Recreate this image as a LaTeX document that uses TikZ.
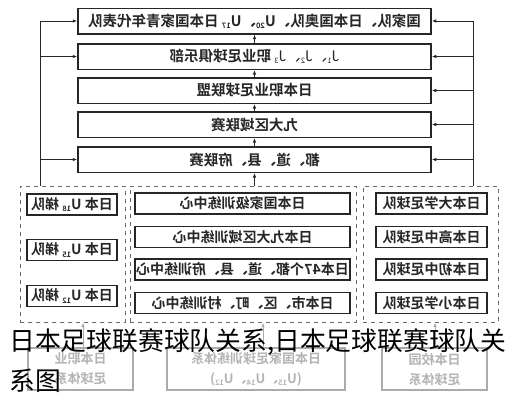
\documentclass[tikz,border=0pt]{standalone}
\usepackage{fontspec}
\usetikzlibrary{arrows.meta}
\newfontfamily\cjk{Noto Sans CJK SC}
\newfontfamily\cjkb{Noto Sans CJK SC Bold}
\newcommand\mysub[1]{\raisebox{-0.3ex}{\fontsize{7.5}{7.5}\selectfont #1}}
\definecolor{ink}{HTML}{262626}
\definecolor{dash}{HTML}{6A6A6A}
\definecolor{faded}{HTML}{ABABAB}
\definecolor{fadedtxt}{HTML}{B4B4B4}
\tikzset{
  topbox/.style={draw=ink, line width=1.5pt, minimum width=353pt, minimum height=25.5pt,
    inner sep=0pt, text=ink, font=\cjkb\fontsize{14.5}{14.5}\selectfont},
  inbox/.style={draw=ink, line width=1.3pt, minimum height=21pt, inner sep=0pt,
    text=ink, font=\cjkb\fontsize{14}{14}\selectfont},
  colbox/.style={draw=dash, line width=1pt, dash pattern=on 4pt off 4pt, inner sep=0pt},
  basebox/.style={draw=faded, line width=1.2pt, minimum height=42pt, inner sep=0pt,
    text=fadedtxt, align=center, font=\cjkb\fontsize{13}{20}\selectfont},
  arr/.style={draw=ink, line width=1pt, -{Latex[length=4.5pt,width=3.5pt]}},
  garr/.style={draw=faded, line width=1pt, -{Latex[length=4.5pt,width=3.5pt]}},
  captext/.style={inner sep=0pt, anchor=base west, text=black, font=\cjk\fontsize{25.8}{25.8}\selectfont}
}
\begin{document}
\begin{tikzpicture}[x=1pt,y=-1pt]
\useasboundingbox[fill=white] (0,0) rectangle (511,400);
% top stack
\node[topbox] (t1) at (254.5,21) {\reflectbox{国家队、日本国奥队、U\mysub{20}、U\mysub{17} 日本国家青年代表队}};
\node[topbox] (t2) at (254.5,56.5) {\reflectbox{{\cjk J\mysub{1}、J\mysub{2}、J\mysub{3}} 职业足球俱乐部}};
\node[topbox] (t3) at (254.5,90.5) {\reflectbox{日本职业足球联盟}};
\node[topbox] (t4) at (254.5,124.5) {\reflectbox{九大区域联赛}};
\node[topbox] (t5) at (254.5,159.5) {\reflectbox{都、道、县、府联赛}};
% dashed columns
\node[colbox, minimum width=105pt, minimum height=136pt] (colL) at (72.5,254) {};
\node[colbox, minimum width=226pt, minimum height=136pt] (colM) at (243,254) {};
\node[colbox, minimum width=135pt, minimum height=136pt] (colR) at (430.5,254) {};
% left column
\node[inbox, minimum width=90pt] (l1) at (72,204.5) {\reflectbox{日本 U\mysub{18} 梯队}};
\node[inbox, minimum width=90pt] (l2) at (72,250) {\reflectbox{日本 U\mysub{15} 梯队}};
\node[inbox, minimum width=90pt] (l3) at (72,296) {\reflectbox{日本 U\mysub{12} 梯队}};
% middle column
\node[inbox, minimum width=215pt] (m1) at (242.5,203.5) {\reflectbox{日本国家级训练中心}};
\node[inbox, minimum width=215pt] (m2) at (242.5,237) {\reflectbox{日本九大区域训练中心}};
\node[inbox, minimum width=215pt] (m3) at (242.5,269.5) {\reflectbox{日本47个都、道、县、府训练中心}};
\node[inbox, minimum width=215pt] (m4) at (242.5,303) {\reflectbox{日本市、区、町、村训练中心}};
% right column
\node[inbox, minimum width=111pt] (r1) at (431.5,203.5) {\reflectbox{日本大学足球队}};
\node[inbox, minimum width=111pt] (r2) at (431.5,237) {\reflectbox{日本高中足球队}};
\node[inbox, minimum width=111pt] (r3) at (431.5,269.5) {\reflectbox{日本初中足球队}};
\node[inbox, minimum width=111pt] (r4) at (431.5,303) {\reflectbox{日本小学足球队}};
% bottom faded boxes
\node[basebox, minimum width=105pt] (bL) at (80.5,369) {\reflectbox{日本职业}\\\reflectbox{足球体系}};
\node[basebox, minimum width=178pt] (bM) at (256,369) {\reflectbox{日本国家足球训练体系}\\\reflectbox{(U\mysub{15}、U\mysub{14}、U\mysub{12})}};
\node[basebox, minimum width=105pt] (bR) at (434.5,369) {\reflectbox{日本校园}\\\reflectbox{足球体系}};
% connectors
\coordinate (lx) at (40,0);
\coordinate (rx) at (473,0);
\draw[arr] (lx |- colL.north) |- (t1.west);
\draw[arr] (lx |- t2.west) -- (t2.west);
\draw[arr] (lx |- t5.west) -- (t5.west);
\draw[arr] (rx |- colR.north) |- (t1.east);
\draw[arr] (rx |- t2.east) -- (t2.east);
\draw[arr] (rx |- t3.east) -- (t3.east);
\draw[arr] (rx |- t4.east) -- (t4.east);
\draw[arr] (rx |- t5.east) -- (t5.east);
\draw[arr] (t2.north) -- (t1.south);
\draw[arr] (t3.north) -- (t2.south);
\draw[arr] (t4.north) -- (t3.south);
\draw[arr] (t5.north) -- (t4.south);
\draw[arr] (t5.south |- colM.north) -- (t5.south);
\draw[garr] ([xshift=2.5pt]bL.north) -- ([xshift=2.5pt]bL.north |- colL.south);
\draw[garr] ([xshift=7pt]bM.north) -- ([xshift=7pt]bM.north |- colM.south);
\draw[garr] ([xshift=0.5pt]bR.north) -- ([xshift=0.5pt]bR.north |- colR.south);
% caption
\node[captext] (cap1) at (9,350) {日本足球联赛球队关系,日本足球联赛球队关};
\node[captext] (cap2) at (9,390) {系图};
\end{tikzpicture}
\end{document}
